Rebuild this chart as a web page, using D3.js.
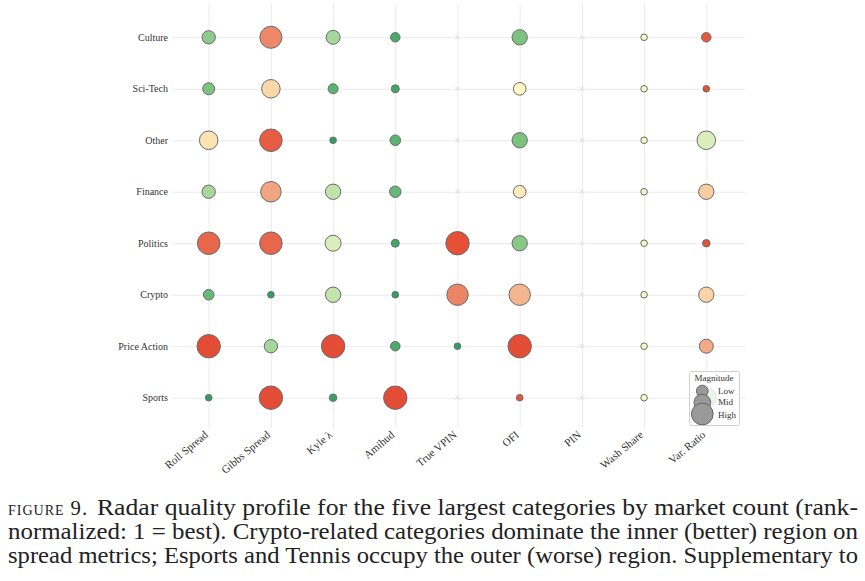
<!DOCTYPE html>
<html><head><meta charset="utf-8">
<script src="https://cdn.jsdelivr.net/npm/d3@7"></script>
<style>body{margin:0;background:#fff} svg{display:block}</style>
</head><body>
<svg id="chart" width="865" height="581"></svg>
<script>
const categories = ["Culture","Sci-Tech","Other","Finance","Politics","Crypto","Price Action","Sports"];
const metrics = ["Roll Spread","Gibbs Spread","Kyle λ","Amihud","True VPIN","OFI","PIN","Wash Share","Var. Ratio"];

// colour value per category (0 = best/green ... 1 = worst/red); null = not available
const rollColor   = [0.28,0.24,0.58,0.34,0.90,0.18,0.98,0.02];
const gibbsColor  = [0.82,0.62,0.93,0.75,0.90,0.02,0.34,0.98];
const kyleColor   = [0.34,0.15,0.02,0.40,0.45,0.40,0.98,0.05];
const amihudColor = [0.10,0.07,0.15,0.18,0.07,0.03,0.10,0.98];
const vpinColor   = [null,null,null,null,0.97,0.83,0.02,null];
const ofiColor    = [0.24,0.52,0.24,0.56,0.27,0.70,0.98,0.96];
const pinColor    = [null,null,null,null,null,null,null,null];
const washColor   = [0.50,0.50,0.50,0.50,0.50,0.50,0.50,0.50];
const varColor    = [0.95,0.97,0.45,0.65,0.97,0.63,0.73,0.30];

// magnitude per category (0 = low ... 1 = high)
const rollSize    = [0.40,0.32,0.71,0.40,0.95,0.24,1.00,0.00];
const gibbsSize   = [0.92,0.71,0.95,0.83,0.95,0.00,0.40,1.00];
const kyleSize    = [0.44,0.20,0.00,0.52,0.56,0.52,1.00,0.05];
const amihudSize  = [0.17,0.08,0.24,0.29,0.08,0.00,0.17,1.00];
const vpinSize    = [null,null,null,null,1.00,0.88,0.00,null];
const ofiSize     = [0.52,0.36,0.52,0.36,0.52,0.88,1.00,0.00];
const pinSize     = [null,null,null,null,null,null,null,null];
const washSize    = [0.00,0.00,0.00,0.00,0.00,0.00,0.00,0.00];
const varSize     = [0.17,0.00,0.71,0.52,0.05,0.52,0.44,0.80];

const colorColumns = [rollColor,gibbsColor,kyleColor,amihudColor,vpinColor,ofiColor,pinColor,washColor,varColor];
const sizeColumns  = [rollSize,gibbsSize,kyleSize,amihudSize,vpinSize,ofiSize,pinSize,washSize,varSize];

const legendLabels = ["Low","Mid","High"];
const legendSizes  = [0.30,0.60,0.90];

const captionLines = [
  "Radar quality profile for the five largest categories by market count (rank-",
  "normalized: 1 = best). Crypto-related categories dominate the inner (better) region on",
  "spread metrics; Esports and Tennis occupy the outer (worse) region. Supplementary to"
];

// build cells
const cells = [];
metrics.forEach((m, j) => categories.forEach((c, i) => {
  cells.push({metric: m, category: c, color: colorColumns[j][i], size: sizeColumns[j][i]});
}));

const svg = d3.select("#chart");
const serif = "'Liberation Serif', 'Times New Roman', serif";

const plotL = 172, plotR = 745, plotT = 4, plotB = 428;
const x = d3.scalePoint().domain(metrics).range([208.7, 706.3]);
const y = d3.scalePoint().domain(categories).range([37.3, 397.7]);
const r = d3.scaleLinear().domain([0, 1]).range([3.3, 11.7]);
const colorStops = [0,0.12,0.24,0.34,0.42,0.47,0.52,0.58,0.64,0.70,0.76,0.83,0.90,1.0];
const colorRange = ["#2a9d5c","#4fae6c","#7cc37f","#a5d79b","#cbe7b2","#e4f2c3","#fff9c6","#fbe3b4","#f8d1a4","#f4b690","#f0a07e","#ec8466","#e8664b","#e3472f"];
const color = d3.scaleLinear().domain(colorStops).range(colorRange).interpolate(d3.interpolateRgb);

// x axis with vertical gridlines
const gx = svg.append("g").attr("transform", `translate(0,${plotB})`)
  .call(d3.axisBottom(x).tickSize(-(plotB - plotT)).tickSizeOuter(0));
gx.select(".domain").remove();
gx.selectAll(".tick line").attr("stroke", "#ebebeb");
gx.selectAll(".tick text")
  .attr("font-family", serif).attr("font-size", 11).attr("fill", "#333")
  .attr("text-anchor", "end").attr("x", 0).attr("y", 0).attr("dy", "0.35em")
  .attr("transform", "translate(-3,5) rotate(-40)");

// y axis with horizontal gridlines
const gy = svg.append("g").attr("transform", `translate(${plotL},0)`)
  .call(d3.axisLeft(y).tickSize(-(plotR - plotL)).tickSizeOuter(0).tickPadding(4));
gy.select(".domain").remove();
gy.selectAll(".tick line").attr("stroke", "#ebebeb");
gy.selectAll(".tick text")
  .attr("font-family", serif).attr("font-size", 10).attr("fill", "#333");

// missing markers
svg.append("g").selectAll("path")
  .data(cells.filter(d => d.size === null))
  .join("path")
  .attr("transform", d => `translate(${x(d.metric)},${y(d.category)})`)
  .attr("d", d3.symbol().type(d3.symbolX).size(14))
  .attr("fill", "none").attr("stroke", "#dcdcdc").attr("stroke-width", 1);

// bubbles
svg.append("g").selectAll("circle")
  .data(cells.filter(d => d.size !== null))
  .join("circle")
  .attr("cx", d => x(d.metric))
  .attr("cy", d => y(d.category))
  .attr("r", d => r(d.size))
  .attr("fill", d => color(d.color))
  .attr("stroke", "#6b6b6b").attr("stroke-width", 1);

// legend
const lg = svg.append("g");
lg.append("rect").attr("x", 689.5).attr("y", 371.5).attr("width", 50).attr("height", 54)
  .attr("rx", 2).attr("fill", "rgba(255,255,255,0.8)").attr("stroke", "#d0d0d0");
lg.append("text").attr("x", 714).attr("y", 381).attr("text-anchor", "middle")
  .attr("font-family", serif).attr("font-size", 9).attr("fill", "#333").text("Magnitude");
const legendY = [391, 402.5, 414];
const legendTextY = [393.5, 405, 418];
lg.selectAll("circle").data(legendSizes).join("circle")
  .attr("cx", 702.3).attr("cy", (d, i) => legendY[i]).attr("r", d => r(d))
  .attr("fill", "#9a9a9a").attr("stroke", "#666").attr("stroke-width", 1);
lg.selectAll("text.lab").data(legendLabels).join("text").attr("class", "lab")
  .attr("x", 718).attr("y", (d, i) => legendTextY[i])
  .attr("font-family", serif).attr("font-size", 9).attr("fill", "#333").text(d => d);

// caption
const cap = svg.append("g").attr("font-family", serif).attr("fill", "#222");
cap.append("text").attr("x", 8).attr("y", 515).attr("font-size", 22)
  .attr("letter-spacing", 1).style("font-variant", "small-caps")
  .attr("textLength", 80).attr("lengthAdjust", "spacingAndGlyphs").text("figure 9.");
const capX = [97, 8, 8];
const capY = [515, 539, 563];
const capW = [761, 850, 850];
captionLines.forEach((t, i) => {
  cap.append("text").attr("x", capX[i]).attr("y", capY[i]).attr("font-size", 23)
    .attr("textLength", capW[i]).attr("lengthAdjust", "spacingAndGlyphs").text(t);
});
</script>
</body></html>
